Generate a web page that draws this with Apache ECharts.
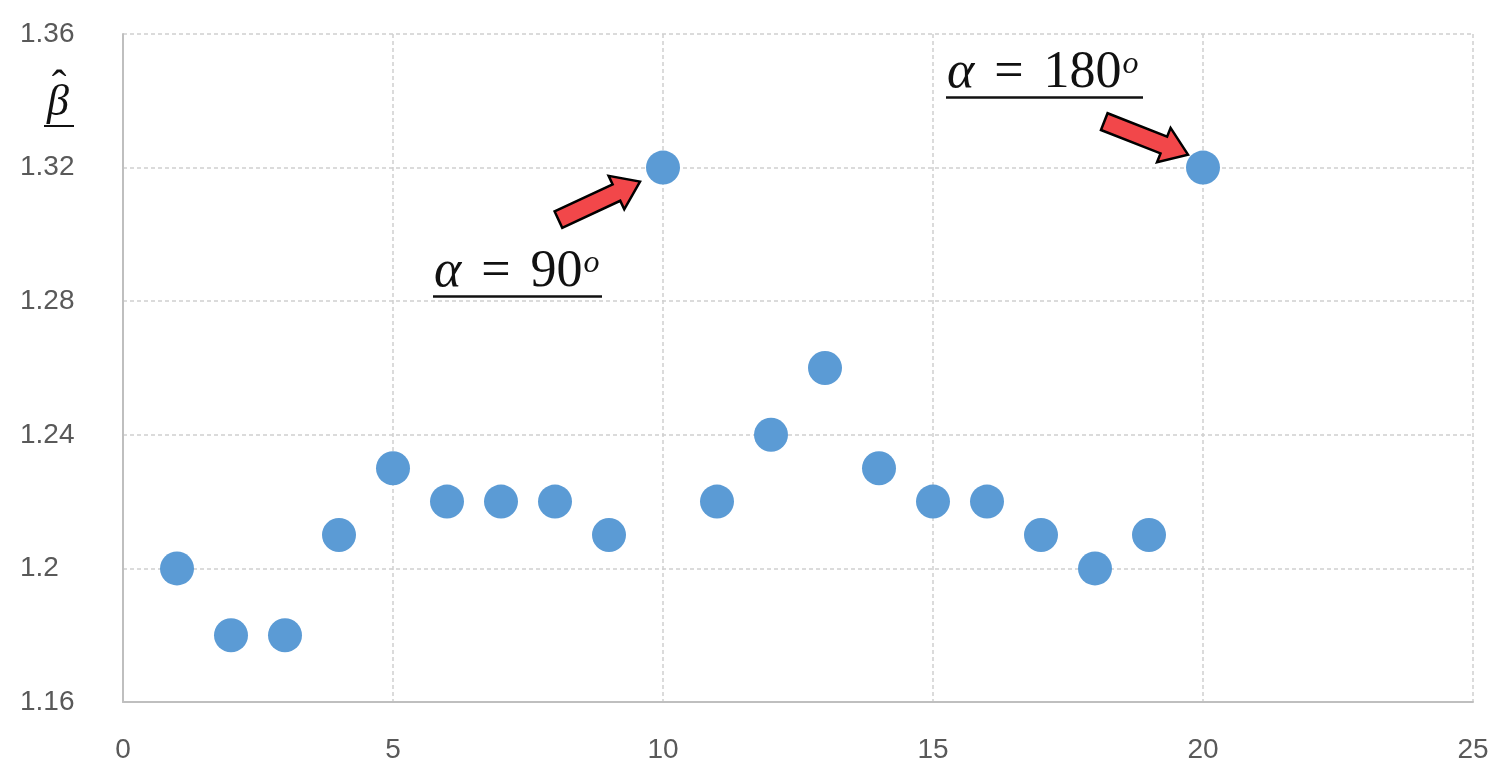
<!DOCTYPE html>
<html><head><meta charset="utf-8">
<script src="https://cdn.jsdelivr.net/npm/echarts@6/dist/echarts.min.js"></script>
<style>html,body{margin:0;padding:0;background:#fff}#c{width:1497px;height:771px}</style>
</head><body><div id="c"></div>
<script>
const xValues = [1,2,3,4,5,6,7,8,9,10,11,12,13,14,15,16,17,18,19,20];
const betaValues = [1.20,1.18,1.18,1.21,1.23,1.22,1.22,1.22,1.21,1.32,1.22,1.24,1.26,1.23,1.22,1.22,1.21,1.20,1.21,1.32];
const yTicks = [1.16,1.2,1.24,1.28,1.32,1.36];
const xTicks = [0,5,10,15,20,25];
const annotations = [
  {x:10, y:1.32, label:'90', textDx:-229, textDy:105, tipDx:-23, tipDy:14, angle:-25, w:168},
  {x:20, y:1.32, label:'180', textDx:-256, textDy:-94, tipDx:-15, tipDy:-13, angle:21.5, w:196}
];

const chart = echarts.init(document.getElementById('c'));
const axisFont = {fontFamily:'Liberation Sans', fontSize:28, color:'#595959'};
const option = {
  animation:false,
  grid:{left:123, right:24, top:34, bottom:69, containLabel:false},
  xAxis:{type:'value', min:0, max:25, interval:5,
    axisLine:{show:true, lineStyle:{color:'#bfbfbf', width:2}},
    axisTick:{show:false},
    splitLine:{show:true, lineStyle:{color:'#d0d0d0', type:[4,3], width:1.5}},
    axisLabel:Object.assign({margin:34, formatter:v=>xTicks.includes(v)?String(v):''}, axisFont)},
  yAxis:{type:'value', min:1.16, max:1.36, interval:0.04,
    axisLine:{show:true, lineStyle:{color:'#bfbfbf', width:2}},
    axisTick:{show:false},
    splitLine:{show:true, lineStyle:{color:'#d0d0d0', type:[4,3], width:1.5}},
    axisLabel:Object.assign({margin:103, align:'left', formatter:v=>{
      const t = yTicks.find(k=>Math.abs(k-v)<1e-9); return t===undefined?'':String(t);}}, axisFont)},
  series:[{type:'scatter', symbol:'circle', symbolSize:34,
    itemStyle:{color:'#5b9bd5', opacity:1},
    data:xValues.map((x,i)=>[x,betaValues[i]])}]
};
chart.setOption(option);

function arrowPoly(tx,ty,angleDeg){
  const L=90, hl=26, sw=9, hw=18.5;
  const a=angleDeg*Math.PI/180, ux=Math.cos(a), uy=Math.sin(a), px=-uy, py=ux;
  const bx=tx-ux*L, by=ty-uy*L, nx=tx-ux*hl, ny=ty-uy*hl;
  return [[bx+px*sw,by+py*sw],[nx+px*sw,ny+py*sw],[nx+px*hw,ny+py*hw],[tx,ty],
          [nx-px*hw,ny-py*hw],[nx-px*sw,ny-py*sw],[bx-px*sw,by-py*sw]];
}
const graphics = [];
const serif = 'Liberation Serif';
annotations.forEach(an=>{
  const p = chart.convertToPixel({seriesIndex:0},[an.x,an.y]);
  graphics.push({type:'polygon', shape:{points:arrowPoly(p[0]+an.tipDx,p[1]+an.tipDy,an.angle)},
    style:{fill:'#f2474a', stroke:'#000', lineWidth:2.5}, z:10});
  const tx=p[0]+an.textDx, ty=p[1]+an.textDy;
  graphics.push({type:'text', x:tx, y:ty, style:{
    text:'{a|α}{e|=}{n|'+an.label+'}{s|o}', verticalAlign:'middle',
    rich:{a:{fontFamily:serif, fontStyle:'italic', fontSize:52, fill:'#111', height:60},
          e:{fontFamily:serif, fontSize:52, fill:'#111', padding:[0,20,0,20], height:60},
          n:{fontFamily:serif, fontSize:52, fill:'#111', height:60},
          s:{fontFamily:serif, fontStyle:'italic', fontSize:32, fill:'#111', verticalAlign:'top', height:60, padding:[0,0,18,1]}}
  }, z:10});
  graphics.push({type:'line', shape:{x1:tx-1,y1:ty+24,x2:tx+an.w,y2:ty+24}, style:{stroke:'#111', lineWidth:2.5}, z:10});
});
// beta-hat label
graphics.push({type:'text', x:58, y:125, style:{text:'β', fontFamily:serif, fontStyle:'italic', fontSize:44, fill:'#111', align:'center', verticalAlign:'bottom'}, z:10});
graphics.push({type:'text', x:59, y:110, style:{text:'ˆ', fontFamily:serif, fontSize:44, fill:'#111', align:'center', verticalAlign:'bottom'}, z:10});
graphics.push({type:'line', shape:{x1:44,y1:126,x2:74,y2:126}, style:{stroke:'#111', lineWidth:2}, z:10});
chart.setOption({graphic:graphics});
</script></body></html>
